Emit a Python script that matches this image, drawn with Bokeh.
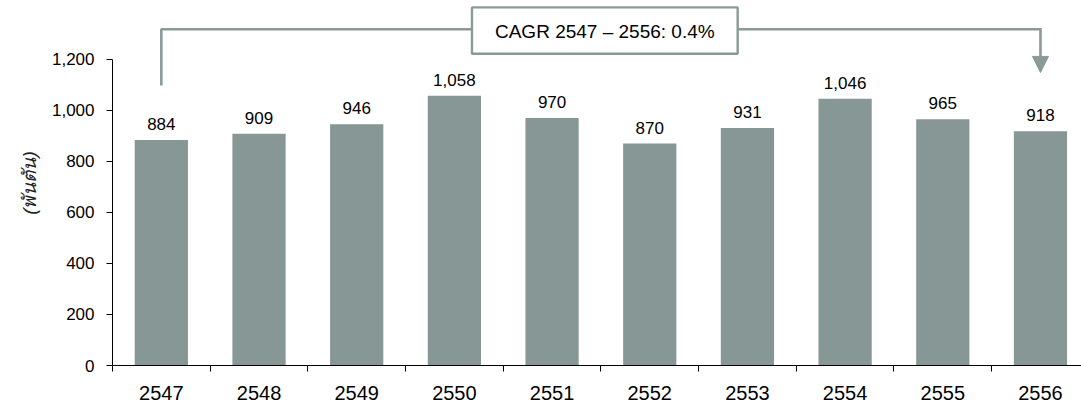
from bokeh.plotting import figure
from bokeh.models import Range1d, FixedTicker, ColumnDataSource, Arrow, NormalHead, NumeralTickFormatter
from bokeh.embed import file_html
from bokeh.resources import INLINE
from bokeh.core.properties import value

years = ["2547", "2548", "2549", "2550", "2551", "2552", "2553", "2554", "2555", "2556"]
volumes = [884, 909, 946, 1058, 970, 870, 931, 1046, 965, 918]
value_labels = ["884", "909", "946", "1,058", "970", "870", "931", "1,046", "965", "918"]
y_ticks = [0, 200, 400, 600, 800, 1000, 1200]
cagr_text = "CAGR 2547 – 2556: 0.4%"
y_label = "(พันตัน)"

BAR = "#879795"
LINE = "#8a9a98"
FONT = "Liberation Sans"

xs = [i + 0.5 for i in range(len(years))]
src = ColumnDataSource(dict(x=xs, top=volumes, lab=value_labels))

p = figure(width=1081, height=403, output_backend="svg", toolbar_location=None,
           x_range=Range1d(0, 9.92), y_range=Range1d(0, 1431),
           min_border_left=112, min_border_right=0, min_border_top=0, min_border_bottom=38)
p.outline_line_color = None
p.xgrid.visible = False
p.ygrid.visible = False
p.background_fill_color = "white"

p.vbar(x="x", top="top", width=0.545, bottom=0, source=src, fill_color=BAR, line_color=None)
p.text(x="x", y="top", text="lab", source=src, text_align="center", text_baseline="alphabetic",
       y_offset=-16, text_font=value(FONT), text_font_size="17px", text_color="black")

# x axis
xa = p.xaxis[0]
xa.ticker = FixedTicker(ticks=xs, minor_ticks=list(range(len(years) + 1)))
xa.major_label_overrides = {x: y for x, y in zip(xs, years)}
xa.major_tick_line_color = None
xa.major_tick_out = 0
xa.major_tick_in = 0
xa.minor_tick_out = 6
xa.minor_tick_in = 0
xa.minor_tick_line_color = "black"
xa.axis_line_color = "black"
xa.major_label_text_font = FONT
xa.major_label_text_font_size = "20px"
xa.major_label_text_color = "black"
xa.major_label_standoff = 14

# y axis
ya = p.yaxis[0]
ya.ticker = FixedTicker(ticks=y_ticks, minor_ticks=[])
ya.formatter = NumeralTickFormatter(format="0,0")
ya.bounds = (0, 1200)
ya.major_tick_out = 6
ya.major_tick_in = 0
ya.major_tick_line_color = "black"
ya.axis_line_color = "black"
ya.major_label_text_font = FONT
ya.major_label_text_font_size = "17px"
ya.major_label_text_color = "black"
ya.major_label_standoff = 12
ya.axis_label = y_label
ya.axis_label_text_font = FONT
ya.axis_label_text_font_style = "italic"
ya.axis_label_text_font_size = "19px"
ya.axis_label_text_color = "#222222"
ya.axis_label_standoff = 9

# CAGR annotation
box_left, box_right, box_bottom, box_top = 3.68, 6.40, 1222, 1404
line_y = 1318
p.line(x=[xs[0], xs[0], box_left], y=[1098, line_y, line_y], line_color=LINE, line_width=2.6)
p.line(x=[box_right, xs[-1]], y=[line_y, line_y], line_color=LINE, line_width=2.6)
p.add_layout(Arrow(end=NormalHead(size=16, fill_color=LINE, line_color=LINE, line_width=1),
                   x_start=xs[-1], y_start=line_y + 5, x_end=xs[-1], y_end=1149,
                   line_color=LINE, line_width=2.6))
p.quad(left=[box_left], right=[box_right], bottom=[box_bottom], top=[box_top],
       fill_color="white", line_color=LINE, line_width=2.4)
p.text(x=[(box_left + box_right) / 2], y=[(box_bottom + box_top) / 2 - 2], text=[cagr_text],
       text_align="center", text_baseline="middle", text_font=value(FONT),
       text_font_size="19px", text_color="black")

open("out.html", "w").write(file_html(p, INLINE))
